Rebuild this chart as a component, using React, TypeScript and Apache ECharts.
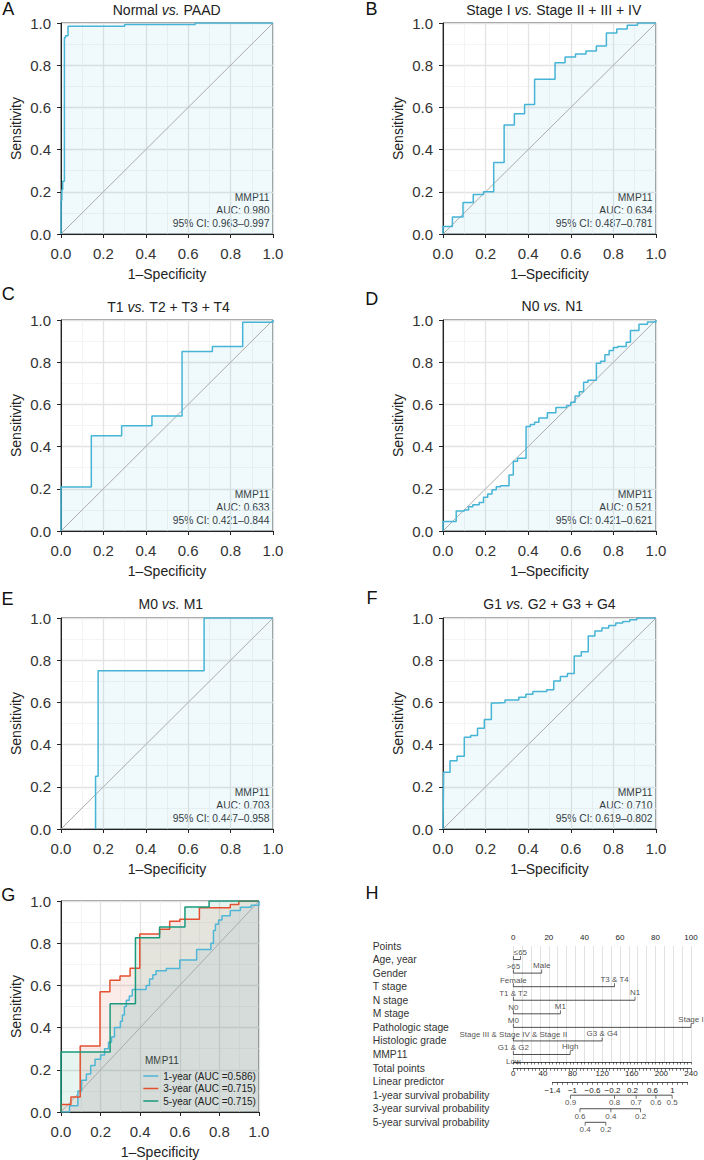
import { useEffect, useRef } from 'react';
import * as echarts from 'echarts';

const FONT = 'Liberation Sans, Arial, Helvetica, sans-serif';

// ---------------- ROC operating points (1-specificity, sensitivity) ----------------
const normalFpr = [0, 0, 0.004, 0.008, 0.016, 0.021, 0.033, 0.3, 0.633, 1];
const normalTpr = [0, 0.16, 0.21, 0.25, 0.93, 0.94, 0.985, 0.993, 1, 1];

const stageFpr = [0, 0, 0.044, 0.094, 0.142, 0.19, 0.238, 0.287, 0.335, 0.383, 0.43, 0.526, 0.573, 0.622, 0.671, 0.72, 0.767, 0.816, 0.865, 0.913, 1];
const stageTpr = [0, 0.035, 0.081, 0.149, 0.187, 0.2, 0.339, 0.516, 0.57, 0.614, 0.733, 0.812, 0.839, 0.853, 0.867, 0.891, 0.953, 0.972, 0.989, 1, 1];

const tFpr = [0, 0, 0.143, 0.286, 0.429, 0.571, 0.714, 0.857, 1, 1];
const tTpr = [0, 0.209, 0.452, 0.499, 0.545, 0.851, 0.875, 0.989, 0.989, 1];

const nFpr = [0, 0, 0.062, 0.1, 0.12, 0.14, 0.17, 0.19, 0.21, 0.23, 0.25, 0.27, 0.31, 0.33, 0.35, 0.39, 0.41, 0.43, 0.45, 0.49, 0.53, 0.58, 0.6, 0.62, 0.64, 0.66, 0.68, 0.72, 0.74, 0.76, 0.78, 0.8, 0.82, 0.86, 0.88, 0.92, 0.96, 1, 1];
const nTpr = [0, 0.045, 0.095, 0.1, 0.115, 0.125, 0.135, 0.16, 0.175, 0.195, 0.21, 0.215, 0.265, 0.33, 0.345, 0.495, 0.505, 0.515, 0.535, 0.56, 0.585, 0.595, 0.61, 0.64, 0.66, 0.705, 0.715, 0.795, 0.805, 0.835, 0.855, 0.87, 0.875, 0.895, 0.95, 0.98, 0.99, 0.99, 1];

const mFpr = [0.163, 0.163, 0.175, 0.675, 1];
const mTpr = [0, 0.25, 0.75, 1, 1];

const gradeFpr = [0, 0.003, 0.033, 0.066, 0.1, 0.13, 0.162, 0.194, 0.227, 0.258, 0.291, 0.356, 0.389, 0.422, 0.487, 0.52, 0.551, 0.584, 0.616, 0.649, 0.682, 0.713, 0.746, 0.778, 0.811, 0.844, 0.877, 0.91, 1];
const gradeTpr = [0, 0.269, 0.324, 0.345, 0.435, 0.443, 0.478, 0.519, 0.597, 0.6, 0.611, 0.625, 0.639, 0.652, 0.66, 0.701, 0.723, 0.737, 0.82, 0.84, 0.915, 0.938, 0.953, 0.965, 0.976, 0.984, 0.992, 1, 1];

const year1Fpr = [0, 0.043, 0.085, 0.104, 0.128, 0.15, 0.172, 0.2, 0.22, 0.24, 0.255, 0.27, 0.3, 0.31, 0.32, 0.33, 0.345, 0.36, 0.43, 0.447, 0.464, 0.48, 0.532, 0.6, 0.685, 0.757, 0.77, 0.78, 0.796, 0.813, 0.855, 0.906, 0.96, 1];
const year1Tpr = [0, 0.03, 0.1, 0.15, 0.18, 0.22, 0.25, 0.27, 0.3, 0.33, 0.355, 0.4, 0.43, 0.46, 0.5, 0.53, 0.55, 0.58, 0.6, 0.63, 0.65, 0.67, 0.68, 0.72, 0.77, 0.8, 0.86, 0.89, 0.91, 0.93, 0.955, 0.97, 0.98, 1];
const year3Fpr = [0, 0, 0.05, 0.097, 0.197, 0.247, 0.298, 0.349, 0.398, 0.498, 0.549, 0.6, 0.699, 0.855, 0.898, 1];
const year3Tpr = [0, 0.035, 0.071, 0.313, 0.57, 0.624, 0.645, 0.681, 0.844, 0.866, 0.904, 0.913, 0.968, 0.984, 1, 1];
const year5Fpr = [0, 0, 0.248, 0.376, 0.498, 0.626, 0.748, 1];
const year5Tpr = [0, 0.284, 0.513, 0.826, 0.877, 0.972, 1, 1];

// ---------------- texts ----------------
const panelLetters = ['A', 'B', 'C', 'D', 'E', 'F', 'G', 'H'];
const titleLeft = ['Normal', 'Stage I', 'T1', 'N0', 'M0', 'G1'];
const titleRight = ['PAAD', 'Stage II + III + IV', 'T2 + T3 + T4', 'N1', 'M1', 'G2 + G3 + G4'];
const markerName = 'MMP11';
const aucValues = ['0.980', '0.634', '0.633', '0.521', '0.703', '0.710'];
const ciValues = ['0.963–0.997', '0.487–0.781', '0.421–0.844', '0.421–0.621', '0.447–0.958', '0.619–0.802'];
const survivalNames = ['1-year (AUC =0.586)', '3-year (AUC =0.715)', '5-year (AUC =0.715)'];

// ---------------- nomogram ----------------
const rowNames = ['Points', 'Age, year', 'Gender', 'T stage', 'N stage', 'M stage', 'Pathologic stage', 'Histologic grade', 'MMP11', 'Total points', 'Linear predictor', '1-year survival probability', '3-year survival probability', '5-year survival probability'];
const levelLow = ['>65', 'Female', 'T1 & T2', 'N0', 'M0', 'Stage III & Stage IV & Stage II', 'G1 & G2', 'Low'];
const levelHigh = ['≤65', 'Male', 'T3 & T4', 'N1', 'M1', 'Stage I', 'G3 & G4', 'High'];
const levelHighPoints = [4, 16, 57, 68.5, 26.5, 100, 50, 32];
const survivalProbs = [[0.9, 0.8, 0.7, 0.6, 0.5], [0.6, 0.4, 0.2], [0.4, 0.2]];
const survivalTotals = [[77.3, 136.8, 165.9, 192.6, 214.5], [90, 131.8, 172], [97, 125]];

// ---------------- layout / style ----------------
const ROC_GRIDS = [
  { left: 61, top: 23, width: 212, height: 211 },
  { left: 443, top: 23, width: 213, height: 211 },
  { left: 61, top: 320, width: 212, height: 211 },
  { left: 443, top: 320, width: 213, height: 211 },
  { left: 61, top: 618, width: 212, height: 211 },
  { left: 443, top: 618, width: 213, height: 211 },
  { left: 61, top: 901, width: 198, height: 212 },
];
// letter positions: center x, top y
const LETTER_POS = [[8.3, 0], [371.5, 0], [8.3, 285], [371.7, 290], [7.5, 590], [372, 589], [8.3, 886], [372, 884]];
const TITLE_POS = [[166.7, 10], [553.7, 10], [168.7, 306.5], [552.3, 306], [170.8, 604], [549.5, 604]];
const NOMO = { left: 513.3, width: 177.7, top: 946, rowsHeight: 176.3, gridHeight: 116, totalRowY: 1068.3, lpLeft: 552.5, lpWidth: 135, lpBottom: 1082.3 };

const LINE_BLUE = '#45b4d5';
const G_LINE = ['#4fb6d6', '#e4502f', '#1a9a7c'];
const G_AREA = ['rgba(78,182,214,0.15)', 'rgba(227,74,51,0.15)', 'rgba(27,158,119,0.15)'];
const DARK = '#222';
const TICK_FS = 15;

function stair(f: number[], t: number[]): number[][] {
  const out: number[][] = [[f[0], t[0]]];
  for (let i = 1; i < f.length; i++) {
    out.push([f[i], t[i - 1]]);
    out.push([f[i], t[i]]);
  }
  return out;
}

function rocX(i: number) {
  return {
    gridIndex: i, type: 'value', min: 0, max: 1, interval: 0.2,
    name: '1–Specificity', nameLocation: 'middle', nameGap: 33,
    nameTextStyle: { fontSize: 14, color: DARK, fontFamily: FONT },
    axisLine: { show: true, onZero: false, lineStyle: { color: DARK, width: 1 } },
    axisTick: { show: true, length: 4, lineStyle: { color: DARK } },
    axisLabel: { fontSize: TICK_FS, color: '#333', margin: 11.5, fontFamily: FONT, formatter: (v: number) => v.toFixed(1) },
    splitLine: { show: true, lineStyle: { color: '#e3e3e3', width: 1.3 } },
    minorTick: { show: false, splitNumber: 2 },
    minorSplitLine: { show: true, lineStyle: { color: '#efefef', width: 0.7 } },
  };
}
function rocY(i: number) {
  return {
    gridIndex: i, type: 'value', min: 0, max: 1, interval: 0.2,
    name: 'Sensitivity', nameLocation: 'middle', nameGap: 38,
    nameTextStyle: { fontSize: 14, color: DARK, fontFamily: FONT },
    axisLine: { show: true, onZero: false, lineStyle: { color: DARK, width: 1 } },
    axisTick: { show: true, length: 4, lineStyle: { color: DARK } },
    axisLabel: { fontSize: TICK_FS, color: '#333', margin: 10, fontFamily: FONT, formatter: (v: number) => v.toFixed(1) },
    splitLine: { show: true, lineStyle: { color: '#e3e3e3', width: 1.3 } },
    minorTick: { show: false, splitNumber: 2 },
    minorSplitLine: { show: true, lineStyle: { color: '#efefef', width: 0.7 } },
  };
}

function buildOption() {
  const grids: any[] = ROC_GRIDS.map((g) => ({ ...g, show: true, borderColor: '#333', borderWidth: 1, backgroundColor: 'transparent' }));
  grids.push({ left: NOMO.left, width: NOMO.width, top: NOMO.top, height: NOMO.rowsHeight }); // 7 rows
  grids.push({ left: NOMO.left, width: NOMO.width, top: NOMO.top, height: NOMO.gridHeight }); // 8 points + gridlines
  grids.push({ left: NOMO.lpLeft, width: NOMO.lpWidth, top: NOMO.lpBottom - 10, height: 10 }); // 9 linear predictor

  const xAxis: any[] = ROC_GRIDS.map((_, i) => rocX(i));
  const yAxis: any[] = ROC_GRIDS.map((_, i) => rocY(i));

  const small = { fontSize: 8, color: DARK, fontFamily: FONT };
  xAxis.push({ gridIndex: 7, type: 'value', position: 'top', min: 0, max: 100, show: false });
  xAxis.push({
    gridIndex: 7, type: 'value', position: 'bottom', offset: -(NOMO.top + NOMO.rowsHeight - NOMO.totalRowY),
    min: 0, max: 240, interval: 5,
    axisLine: { show: true, lineStyle: { color: DARK, width: 0.8 } },
    axisTick: { show: true, length: 2.5, lineStyle: { color: DARK, width: 0.6 } },
    axisLabel: { ...small, margin: 1.5, formatter: (v: number) => (Math.round(v) % 40 === 0 ? String(Math.round(v)) : '') },
    splitLine: { show: false },
  });
  xAxis.push({
    gridIndex: 8, type: 'value', position: 'top', min: 0, max: 100, interval: 2,
    axisLine: { show: true, lineStyle: { color: DARK, width: 0.8 } },
    axisTick: { show: true, inside: true, length: 2.5, lineStyle: { color: DARK, width: 0.6 } },
    axisLabel: { ...small, margin: 4.8, formatter: (v: number) => (Math.round(v) % 20 === 0 ? String(Math.round(v)) : '') },
    splitLine: { show: false },
  });
  xAxis.push({
    gridIndex: 8, type: 'value', position: 'bottom', min: 0, max: 100, interval: 5,
    axisLine: { show: false }, axisTick: { show: false }, axisLabel: { show: false },
    splitLine: { show: true, lineStyle: { color: '#dadada', width: 0.8 } },
  });
  xAxis.push({
    gridIndex: 9, type: 'value', position: 'bottom', min: -14, max: 13, interval: 1,
    axisLine: { show: true, lineStyle: { color: DARK, width: 0.8 } },
    axisTick: { show: true, length: 2.5, lineStyle: { color: DARK, width: 0.6 } },
    axisLabel: {
      ...small, margin: 4,
      formatter: (v: number) => {
        const k = Math.round(v);
        if ((k + 14) % 4 !== 0) return '';
        const s = String(Math.abs(k) / 10);
        return k < 0 ? '−' + s : s;
      },
    },
    splitLine: { show: false },
  });

  yAxis.push({
    gridIndex: 7, type: 'value', min: 0, max: 13, interval: 1, inverse: true,
    axisLine: { show: false }, axisTick: { show: false }, splitLine: { show: false },
    axisLabel: { align: 'left', margin: NOMO.left - 372.7, fontSize: 10.3, color: '#333', fontFamily: FONT, formatter: (v: number) => rowNames[Math.round(v)] ?? '' },
  });
  yAxis.push({ gridIndex: 8, type: 'value', min: 0, max: 1, show: false });
  yAxis.push({ gridIndex: 9, type: 'value', min: 0, max: 1, show: false });

  const series: any[] = [];
  const diag = (i: number) => ({
    type: 'line', xAxisIndex: i, yAxisIndex: i, data: [[0, 0], [1, 1]], symbol: 'none', silent: true,
    lineStyle: { color: '#ababab', width: 1 }, emphasis: { disabled: true },
  });
  const rocSets = [[normalFpr, normalTpr], [stageFpr, stageTpr], [tFpr, tTpr], [nFpr, nTpr], [mFpr, mTpr], [gradeFpr, gradeTpr]];
  rocSets.forEach(([f, t], i) => {
    series.push(diag(i));
    series.push({
      type: 'line', xAxisIndex: i, yAxisIndex: i, data: stair(f, t), symbol: 'none', silent: true,
      lineStyle: { color: LINE_BLUE, width: 1.5 }, areaStyle: { color: 'rgba(69,180,213,0.11)' }, emphasis: { disabled: true },
    });
  });
  series.push(diag(6));
  const gSets = [[year1Fpr, year1Tpr], [year3Fpr, year3Tpr], [year5Fpr, year5Tpr]];
  gSets.forEach(([f, t], k) => {
    series.push({
      name: survivalNames[k], type: 'line', xAxisIndex: 6, yAxisIndex: 6, data: stair(f, t), symbol: 'none', silent: true,
      color: G_LINE[k], itemStyle: { color: G_LINE[k] },
      lineStyle: { color: G_LINE[k], width: 1.5 }, areaStyle: { color: G_AREA[k] }, emphasis: { disabled: true },
    });
  });

  const tickData: number[][] = [];
  const lowLabels: any[] = [];
  const highLabels: any[] = [];
  levelHighPoints.forEach((p, k) => {
    const row = k + 1;
    series.push({
      type: 'line', xAxisIndex: 7, yAxisIndex: 7, data: [[0, row], [p, row]], symbol: 'none', silent: true, clip: false,
      lineStyle: { color: DARK, width: 0.8 }, emphasis: { disabled: true },
    });
    tickData.push([0, row], [p, row]);
    lowLabels.push({ name: levelLow[k], value: [0, row] });
    highLabels.push({ name: levelHigh[k], value: [p, row] });
  });
  series.push({
    type: 'scatter', xAxisIndex: 7, yAxisIndex: 7, data: tickData, symbol: 'rect', symbolSize: [0.8, 3.5], symbolOffset: [0, -1.75],
    itemStyle: { color: DARK }, silent: true, clip: false, emphasis: { disabled: true },
  });
  const labelSeries = (data: any[], dy: number, xIdx: number) => ({
    type: 'scatter', xAxisIndex: xIdx, yAxisIndex: 7, data, symbolSize: 0, silent: true, clip: false,
    itemStyle: { color: 'transparent' }, emphasis: { disabled: true },
    label: { show: true, position: 'inside', offset: [0, dy], formatter: '{b}', ...small },
  });
  series.push(labelSeries(lowLabels, 7, 7));
  series.push(labelSeries(highLabels, -7.5, 7));

  const survTicks: number[][] = [];
  const survLabels: any[] = [];
  survivalTotals.forEach((tp, k) => {
    const row = 11 + k;
    series.push({
      type: 'line', xAxisIndex: 8, yAxisIndex: 7, data: [[tp[0], row], [tp[tp.length - 1], row]], symbol: 'none', silent: true, clip: false,
      lineStyle: { color: DARK, width: 0.8 }, emphasis: { disabled: true },
    });
    tp.forEach((x, j) => {
      survTicks.push([x, row]);
      survLabels.push({ name: String(survivalProbs[k][j]), value: [x, row] });
    });
  });
  series.push({
    type: 'scatter', xAxisIndex: 8, yAxisIndex: 7, data: survTicks, symbol: 'rect', symbolSize: [0.8, 3.5], symbolOffset: [0, 1.75],
    itemStyle: { color: DARK }, silent: true, clip: false, emphasis: { disabled: true },
  });
  series.push(labelSeries(survLabels, 7.5, 8));

  const graphic: any[] = [];
  panelLetters.forEach((l, i) => {
    graphic.push({ type: 'text', x: LETTER_POS[i][0], y: LETTER_POS[i][1], silent: true,
      style: { text: l, fill: '#111', fontSize: 18, fontFamily: FONT, align: 'center', verticalAlign: 'top' } });
  });
  titleLeft.forEach((t, i) => {
    graphic.push({ type: 'text', x: TITLE_POS[i][0], y: TITLE_POS[i][1], silent: true,
      style: {
        text: `{n|${t} }{i|vs.}{n| ${titleRight[i]}}`, align: 'center', verticalAlign: 'middle',
        fontSize: 14, fontFamily: FONT, fill: DARK,
        rich: { n: { fontSize: 14, fontFamily: FONT, fill: DARK }, i: { fontSize: 14, fontFamily: FONT, fill: DARK, fontStyle: 'italic' } },
      } });
    const g = ROC_GRIDS[i];
    const right = g.left + g.width - 3.5;
    const bottom = g.top + g.height;
    const lines = [markerName, `AUC: ${aucValues[i]}`, `95% CI: ${ciValues[i]}`];
    const dys = [37, 23.3, 11];
    lines.forEach((s, j) => {
      graphic.push({ type: 'text', x: right, y: bottom - dys[j], silent: true,
        style: { text: s, fill: '#333', fontSize: 10.3, fontFamily: FONT, align: 'right', verticalAlign: 'middle' } });
    });
  });
  graphic.push({ type: 'text', x: 145, y: 1060, silent: true,
    style: { text: markerName, fill: DARK, fontSize: 10, fontFamily: FONT, align: 'left', verticalAlign: 'middle' } });

  return {
    animation: false,
    backgroundColor: '#ffffff',
    textStyle: { fontFamily: FONT },
    grid: grids,
    xAxis,
    yAxis,
    series,
    graphic,
    legend: {
      data: survivalNames, orient: 'vertical', left: 138.3, top: 1065, padding: 5,
      icon: 'rect', itemWidth: 15, itemHeight: 1.5, itemGap: 0.5, selectedMode: false,
      textStyle: { fontSize: 10, color: DARK, fontFamily: FONT, lineHeight: 12 },
    },
  };
}

export default function App() {
  const ref = useRef<HTMLDivElement>(null);
  useEffect(() => {
    document.body.style.margin = '0';
    if (!ref.current) return;
    const chart = echarts.init(ref.current, undefined, { renderer: 'svg' });
    chart.setOption(buildOption() as any);
    return () => chart.dispose();
  }, []);
  return <div ref={ref} style={{ width: 704, height: 1160 }} />;
}
